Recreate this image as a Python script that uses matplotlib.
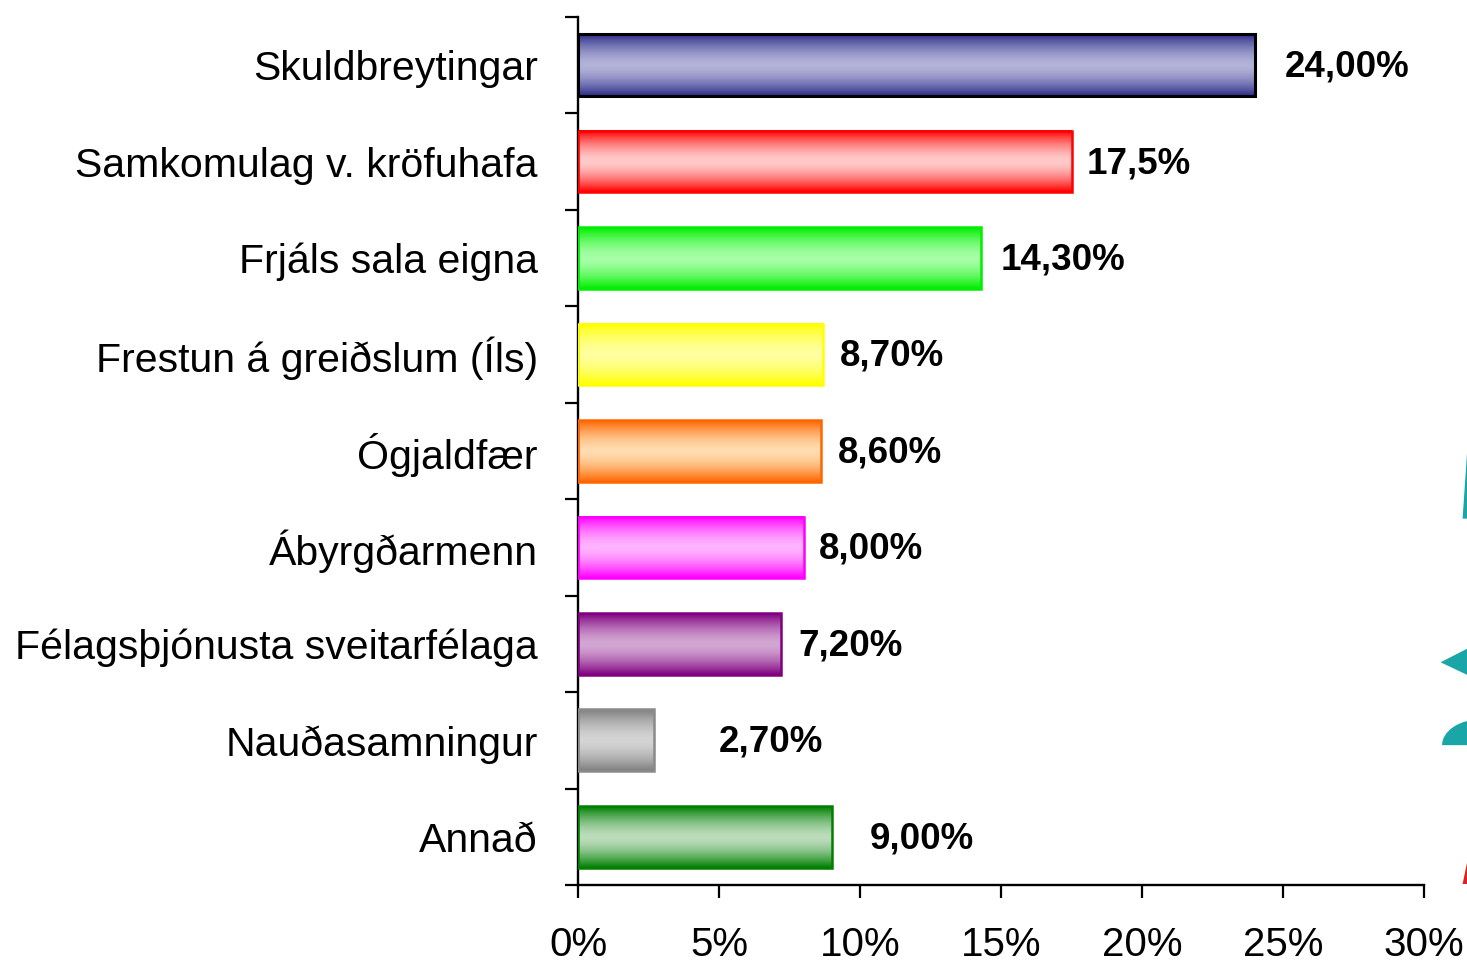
import numpy as np
import matplotlib
matplotlib.use("Agg")
from matplotlib import pyplot as plt
from matplotlib.colors import LinearSegmentedColormap
from matplotlib.patches import Polygon, Wedge

plt.rcParams['font.family'] = ['Liberation Sans', 'DejaVu Sans']

categories = ['Skuldbreytingar', 'Samkomulag v. kröfuhafa', 'Frjáls sala eigna',
              'Frestun á greiðslum (Íls)', 'Ógjaldfær', 'Ábyrgðarmenn',
              'Félagsþjónusta sveitarfélaga', 'Nauðasamningur', 'Annað']
values = [24.0, 17.5, 14.3, 8.7, 8.6, 8.0, 7.2, 2.7, 9.0]
value_labels = ['24,00%', '17,5%', '14,30%', '8,70%', '8,60%', '8,00%', '7,20%', '2,70%', '9,00%']
label_gap = [1.05, 0.55, 0.7, 0.6, 0.6, 0.55, 0.6, 2.3, 1.35]   # space between bar end and label

edge_cols = ['#2e2e8a', '#ff0000', '#00ee00', '#ffff00', '#ff6600', '#ff00ff', '#800080', '#808080', '#008000']
mid_cols = ['#b3b3d9', '#ffcaca', '#a6ffa6', '#ffff9e', '#ffdcb0', '#ffb3ff', '#d2a6d2', '#d4d4d4', '#bcdcbc']
border_cols = ['#000000', '#ff0000', '#00ee00', '#ffff00', '#ff6600', '#ff00ff', '#800080', '#8a8a8a', '#008000']

fig = plt.figure(figsize=(14.67, 9.64), dpi=100)
ax = fig.add_axes([0.394, 0.082, 0.5767, 0.9004])

y = np.arange(len(categories))
h = 0.64
grad = np.abs(np.linspace(-1, 1, 64)) ** 1.6
grad = grad.reshape(-1, 1)

bars = ax.barh(y, values, height=h, facecolor='none', zorder=3)
for i, b in enumerate(bars):
    cmap = LinearSegmentedColormap.from_list('g%d' % i, [mid_cols[i], edge_cols[i]])
    ax.imshow(grad, cmap=cmap, aspect='auto', vmin=0, vmax=1,
              extent=[0, values[i], y[i] + h / 2, y[i] - h / 2], zorder=2,
              interpolation='bilinear')
    b.set_edgecolor(border_cols[i])
    b.set_linewidth(2.2 if i == 0 else 1.8)
    ax.text(values[i] + label_gap[i], y[i] + 0.02, value_labels[i], fontsize=26.5,
            fontweight='bold', va='center', ha='left', zorder=4)

ax.set_xlim(0, 30)
ax.set_ylim(len(categories) - 0.5, -0.5)
ax.set_xticks(np.arange(0, 31, 5))
ax.set_xticklabels(['%d%%' % v for v in range(0, 31, 5)], fontsize=29)
ax.set_yticks(y)
ax.set_yticklabels(categories, fontsize=29.5)
ax.set_yticks(np.arange(-0.5, len(categories)), minor=True)
ax.tick_params(axis='y', which='major', length=0, pad=29)
ax.tick_params(axis='y', which='minor', length=9.5, width=1.6, direction='out')
ax.tick_params(axis='x', length=9.5, width=1.6, direction='out', pad=20)
for s in ['top', 'right']:
    ax.spines[s].set_visible(False)
for s in ['left', 'bottom']:
    ax.spines[s].set_linewidth(1.7)

# bits of a logo cut off at the right edge
teal = '#1aa6a6'
fig.patches.append(Polygon([[1.0, 0.327], [0.982, 0.313], [1.0, 0.300]], closed=True,
                           transform=fig.transFigure, facecolor=teal, edgecolor='none'))
fig.patches.append(Wedge((1.01, 0.227), 0.027, 90, 180, transform=fig.transFigure,
                         facecolor=teal, edgecolor='none'))
fig.patches.append(Polygon([[1.0, 0.530], [0.997, 0.462], [1.0, 0.462]], closed=True,
                           transform=fig.transFigure, facecolor=teal, edgecolor='none'))
fig.patches.append(Polygon([[1.0, 0.105], [0.997, 0.083], [1.0, 0.083]], closed=True,
                           transform=fig.transFigure, facecolor='#e02020', edgecolor='none'))

fig.savefig('out.png', dpi=100, facecolor='white')
